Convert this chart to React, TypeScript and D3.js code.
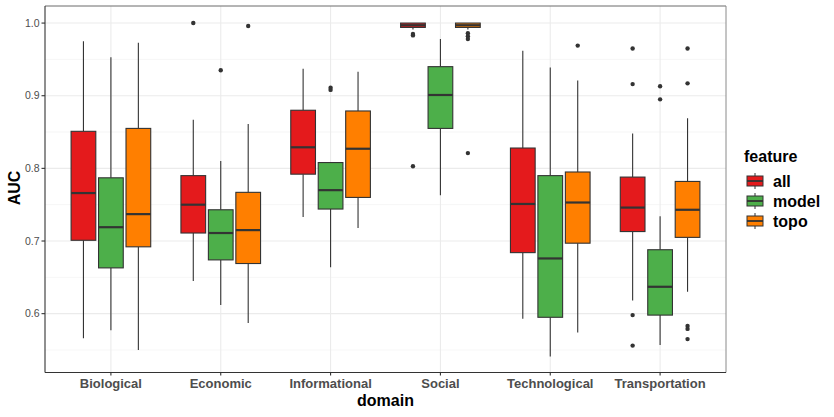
import React from "react";
import * as d3 from "d3";

const domains = ["Biological", "Economic", "Informational", "Social", "Technological", "Transportation"];
const features = ["all", "model", "topo"];
const featureColors = ["#E41A1C", "#4DAF4A", "#FF7F00"];

// [lowerWhisker, Q1, median, Q3, upperWhisker] per domain
const allStats = [
  [0.566, 0.701, 0.766, 0.851, 0.975],
  [0.645, 0.711, 0.750, 0.790, 0.867],
  [0.733, 0.792, 0.829, 0.880, 0.937],
  [0.991, 0.994, 0.997, 1.0, 1.0],
  [0.593, 0.684, 0.751, 0.828, 0.962],
  [0.618, 0.713, 0.746, 0.788, 0.848],
];
const modelStats = [
  [0.577, 0.663, 0.719, 0.787, 0.953],
  [0.612, 0.674, 0.711, 0.743, 0.810],
  [0.664, 0.744, 0.770, 0.808, 0.808],
  [0.763, 0.855, 0.901, 0.940, 0.978],
  [0.541, 0.595, 0.676, 0.790, 0.939],
  [0.557, 0.598, 0.637, 0.688, 0.734],
];
const topoStats = [
  [0.550, 0.692, 0.737, 0.855, 0.973],
  [0.587, 0.669, 0.715, 0.767, 0.861],
  [0.718, 0.760, 0.827, 0.879, 0.933],
  [0.991, 0.994, 0.997, 1.0, 1.0],
  [0.574, 0.697, 0.753, 0.795, 0.921],
  [0.630, 0.705, 0.743, 0.782, 0.869],
];

const allOutliers = [
  [],
  [1.0],
  [],
  [0.985, 0.983, 0.803],
  [],
  [0.965, 0.916, 0.598, 0.556],
];
const modelOutliers = [
  [],
  [0.935],
  [0.911, 0.908],
  [],
  [],
  [0.913, 0.895],
];
const topoOutliers = [
  [],
  [0.996],
  [],
  [0.986, 0.982, 0.978, 0.821],
  [0.969],
  [0.965, 0.917, 0.583, 0.579, 0.565],
];

const yTicks = [0.6, 0.7, 0.8, 0.9, 1.0];
const yMinor = [0.55, 0.65, 0.75, 0.85, 0.95];

const W = 834;
const H = 417;
const FONT = "'Liberation Sans', Arial, Helvetica, sans-serif";

export default function App() {
  const left = 45, right = 726, top = 6, bottom = 372.5;
  const y = d3.scaleLinear().domain([0.519, 1.0235]).range([bottom, top]);
  // ggplot discrete axis: 0.6 units of expansion on each side
  const xp = d3.scalePoint().domain(domains).range([left, right]).padding(0.6);
  const step = xp.step();
  const dodge = d3.scaleBand().domain(features).range([-step * 0.375, step * 0.375]);
  const boxW = dodge.bandwidth() * 0.9;

  const statsByFeature = [allStats, modelStats, topoStats];
  const outByFeature = [allOutliers, modelOutliers, topoOutliers];

  const dark = "#333333";

  return (
    <svg width={W} height={H} style={{ position: "fixed", left: 0, top: 0, background: "#fff" }} fontFamily={FONT}>
      <rect x={0} y={0} width={W} height={H} fill="#fff" />
      {/* grid */}
      {yMinor.map((v) => (
        <line key={"mn" + v} x1={left} x2={right} y1={y(v)} y2={y(v)} stroke="#F4F4F4" strokeWidth={0.8} />
      ))}
      {yTicks.map((v) => (
        <line key={"mj" + v} x1={left} x2={right} y1={y(v)} y2={y(v)} stroke="#EBEBEB" strokeWidth={1.1} />
      ))}
      {domains.map((d) => (
        <line key={"vg" + d} x1={xp(d)} x2={xp(d)} y1={top} y2={bottom} stroke="#EBEBEB" strokeWidth={1.1} />
      ))}
      {/* boxes */}
      {domains.map((d, di) =>
        features.map((f, fi) => {
          const [lw, q1, med, q3, uw] = statsByFeature[fi][di];
          const cx = (xp(d) as number) + (dodge(f) as number) + dodge.bandwidth() / 2;
          return (
            <g key={d + f}>
              <line x1={cx} x2={cx} y1={y(uw)} y2={y(q3)} stroke={dark} strokeWidth={1.1} />
              <line x1={cx} x2={cx} y1={y(q1)} y2={y(lw)} stroke={dark} strokeWidth={1.1} />
              <rect
                x={cx - boxW / 2}
                y={y(q3)}
                width={boxW}
                height={Math.max(0.5, y(q1) - y(q3))}
                fill={featureColors[fi]}
                stroke={dark}
                strokeWidth={1.1}
              />
              <line x1={cx - boxW / 2} x2={cx + boxW / 2} y1={y(med)} y2={y(med)} stroke={dark} strokeWidth={2.2} />
              {outByFeature[fi][di].map((o, oi) => (
                <circle key={oi} cx={cx} cy={y(o)} r={2.2} fill={dark} />
              ))}
            </g>
          );
        })
      )}
      {/* panel border */}
      <line x1={left} x2={right} y1={top} y2={top} stroke="#6a6a6a" strokeWidth={1} />
      <line x1={right} x2={right} y1={top} y2={bottom} stroke="#8a8a8a" strokeWidth={1} />
      <line x1={left} x2={left} y1={top} y2={bottom} stroke={dark} strokeWidth={1.1} />
      <line x1={left} x2={right} y1={bottom} y2={bottom} stroke={dark} strokeWidth={1.1} />
      {/* y axis ticks */}
      {yTicks.map((v) => (
        <g key={"yt" + v}>
          <line x1={left - 3.5} x2={left} y1={y(v)} y2={y(v)} stroke={dark} strokeWidth={1.1} />
          <text x={left - 5.5} y={y(v)} dy="0.35em" textAnchor="end" fontSize={10.5} fill="#4D4D4D">
            {v.toFixed(1)}
          </text>
        </g>
      ))}
      {/* x axis ticks */}
      {domains.map((d) => (
        <g key={"xt" + d}>
          <line x1={xp(d)} x2={xp(d)} y1={bottom} y2={bottom + 3} stroke={dark} strokeWidth={1.1} />
          <text x={xp(d)} y={388} textAnchor="middle" fontSize={13} fontWeight="bold" fill="#4D4D4D">
            {d}
          </text>
        </g>
      ))}
      {/* axis titles */}
      <text x={(left + right) / 2} y={406} textAnchor="middle" fontSize={16} fontWeight="bold" fill="#000">
        domain
      </text>
      <text
        transform={`translate(19.5, 188) rotate(-90)`}
        textAnchor="middle"
        fontSize={16}
        fontWeight="bold"
        fill="#000"
      >
        AUC
      </text>
      {/* legend */}
      <text x={744} y={162} fontSize={16} fontWeight="bold" fill="#000">
        feature
      </text>
      {features.map((f, fi) => {
        const cy = 181 + fi * 20;
        const kx = 747, kw = 16, kh = 10;
        return (
          <g key={"lg" + f}>
            <line x1={kx + kw / 2} x2={kx + kw / 2} y1={cy - 8} y2={cy + 8} stroke={dark} strokeWidth={1} />
            <rect x={kx} y={cy - kh / 2} width={kw} height={kh} fill={featureColors[fi]} stroke={dark} strokeWidth={1} />
            <line x1={kx} x2={kx + kw} y1={cy} y2={cy} stroke={dark} strokeWidth={1.8} />
            <text x={773} y={cy} dy="0.36em" fontSize={16} fontWeight="bold" fill="#000">
              {f}
            </text>
          </g>
        );
      })}
    </svg>
  );
}
